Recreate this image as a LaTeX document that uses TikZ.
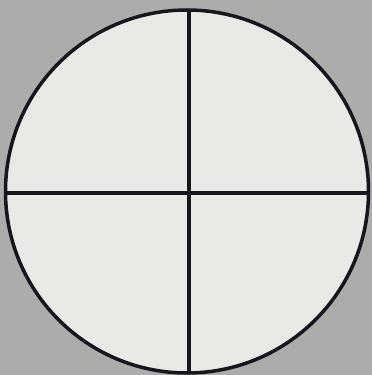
\documentclass[tikz,border=0pt]{standalone}
\definecolor{bggray}{RGB}{172,172,170}
\definecolor{discfill}{RGB}{233,233,229}
\definecolor{inkline}{RGB}{22,22,30}
\begin{document}
\begin{tikzpicture}[x=1pt,y=1pt,line width=3.5pt]
  \fill[bggray] (0,0) rectangle (372,375); \useasboundingbox (0,0) rectangle (372,375);
  \coordinate (c) at (187,183.5); \coordinate (t) at (189,365); \coordinate (b) at (189,2); \coordinate (l) at (6,182); \coordinate (r) at (368,182);
  \draw[draw=inkline,fill=discfill] (c) circle (181.5);
  \draw[inkline] (t)--(b) (l)--(r);
\end{tikzpicture}
\end{document}
